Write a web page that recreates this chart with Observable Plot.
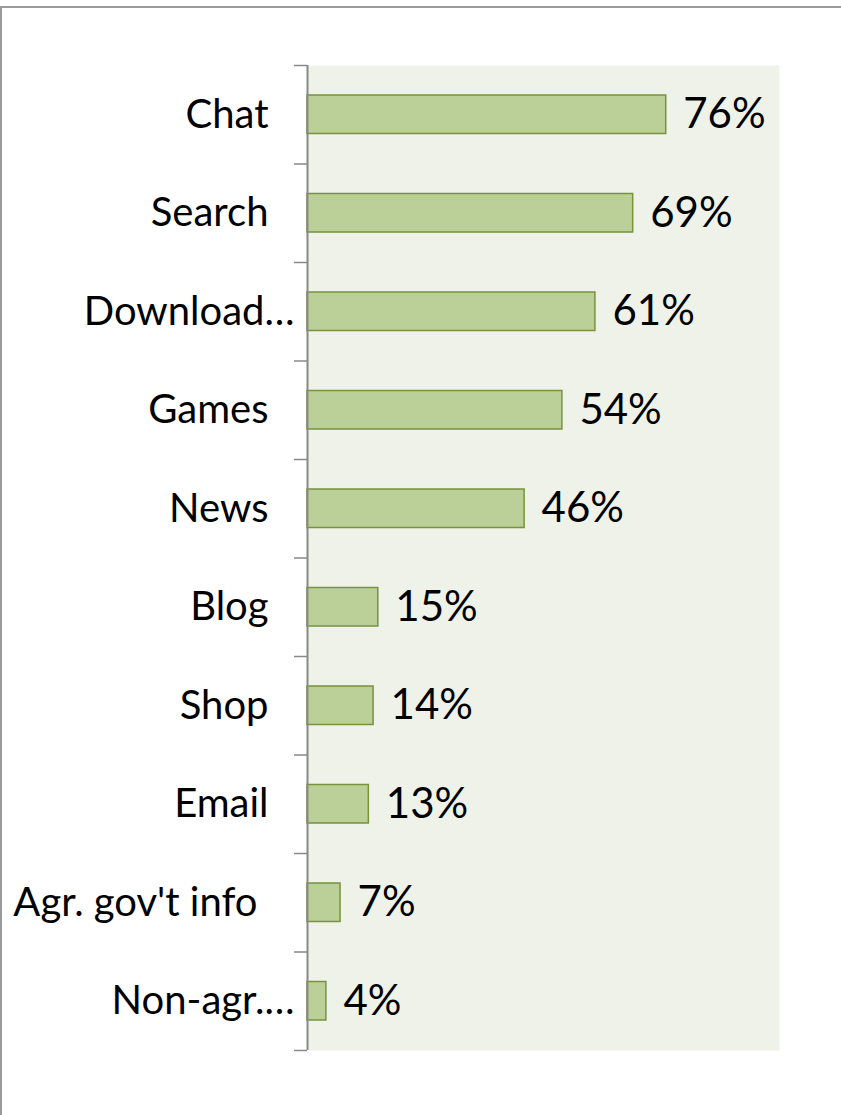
<!DOCTYPE html>
<html>
<head>
<meta charset="utf-8">
<script src="https://cdn.jsdelivr.net/npm/d3@7"></script>
<script src="https://cdn.jsdelivr.net/npm/@observablehq/plot@0.6"></script>
<style>
  html, body { margin: 0; padding: 0; background: #fff; overflow: hidden; }
  #frame { position: absolute; left: 0; top: 6px; width: 960px; height: 1300px; border: 2px solid #9a9a9a; box-sizing: border-box; }
  #chart { position: absolute; left: 0; top: 0; }
</style>
</head>
<body>
<div id="frame"></div>
<div id="chart"></div>
<script>
const categories = ["Chat", "Search", "Download…", "Games", "News", "Blog", "Shop", "Email", "Agr. gov't info", "Non-agr.…"];
const values = [76, 69, 61, 54, 46, 15, 14, 13, 7, 4];

const data = categories.map((c, i) => ({ name: c, value: values[i], i }));
const n = categories.length;
const font = "Lato, 'Open Sans', sans-serif";
const isEllipsis = d => d.name.endsWith("…");
const isAgr = d => d.name === "Agr. gov't info";
const labelTicks = (pred) => data.filter(pred).map(d => d.i + 0.5);
const labelOf = t => categories[Math.floor(t)];

const chart = Plot.plot({
  width: 841,
  height: 1115,
  marginLeft: 307,
  marginRight: 62,
  marginTop: 65,
  marginBottom: 65,
  style: { fontFamily: font, background: "transparent", overflow: "visible" },
  x: { domain: [0, 100], axis: null },
  y: { domain: [0, n], reverse: true, axis: null },
  marks: [
    Plot.frame({ fill: "#EFF2E8", stroke: "none" }),
    Plot.rectX(data, {
      x1: 0, x2: "value", y1: "i", y2: d => d.i + 1,
      insetTop: 30, insetBottom: 30,
      fill: "#BBCF98", stroke: "#77933C", strokeWidth: 1.5
    }),
    Plot.text(data, {
      x: "value", y: d => d.i + 0.5, text: d => d.value + "%",
      textAnchor: "start", dx: 17, fontSize: 42, fill: "#000"
    }),
    Plot.axisY({ ticks: d3.range(n + 1), tickSize: 13, tickFormat: () => "", label: null, stroke: "#888", strokeWidth: 1.5 }),
    Plot.ruleX([0], { stroke: "#888", strokeWidth: 2 }),
    Plot.axisY({ ticks: labelTicks(d => !isEllipsis(d) && !isAgr(d)), tickSize: 0, tickPadding: 39, tickFormat: labelOf, label: null, fontSize: 40, fill: "#000" }),
    Plot.axisY({ ticks: labelTicks(isEllipsis), tickSize: 0, tickPadding: 13, tickFormat: labelOf, label: null, fontSize: 40, fill: "#000" }),
    Plot.axisY({ ticks: labelTicks(isAgr), tickSize: 0, tickPadding: 50, tickFormat: labelOf, label: null, fontSize: 40, fill: "#000" })
  ]
});
document.getElementById("chart").appendChild(chart);
</script>
</body>
</html>
